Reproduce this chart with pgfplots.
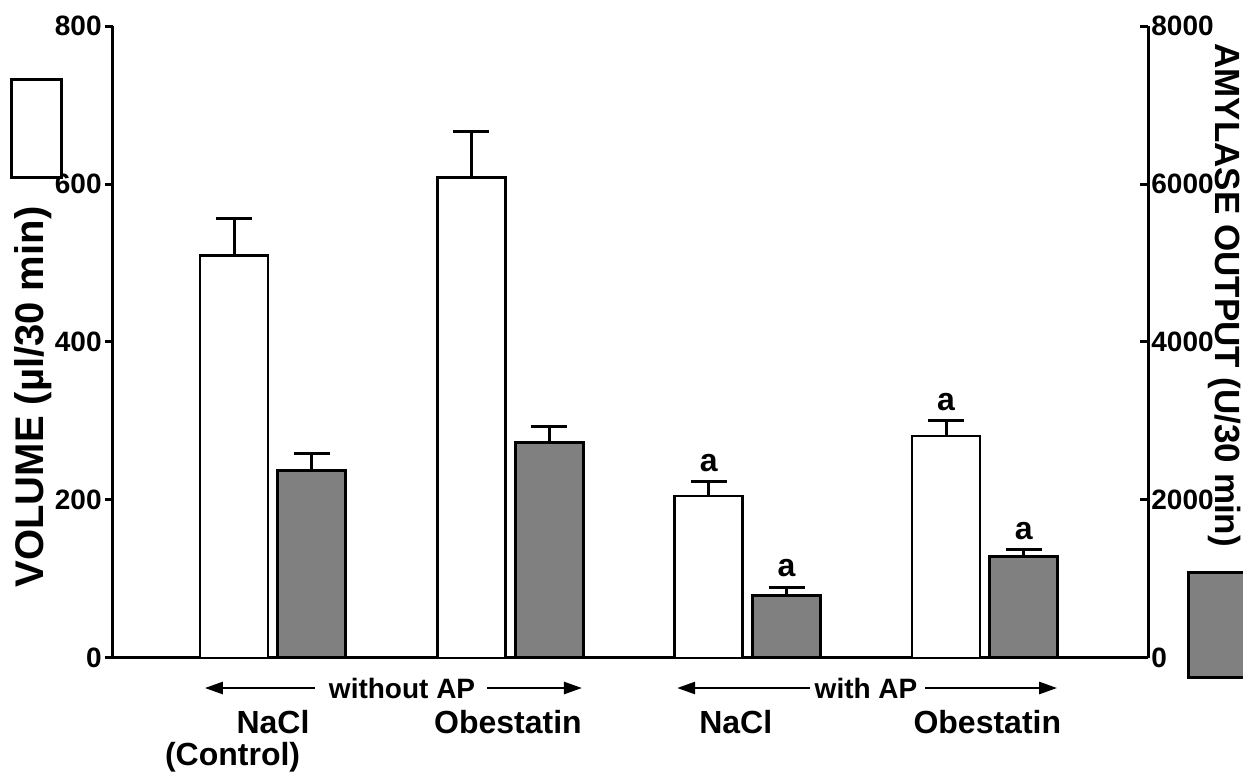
\documentclass[border=0pt]{standalone}
\usepackage{fontspec}
\setmainfont{Liberation Sans}
\usepackage{pgfplots}
\pgfplotsset{compat=1.18}
\usetikzlibrary{arrows.meta}
\definecolor{bargray}{RGB}{128,128,128}

\begin{document}
\begin{tikzpicture}
\pgfplotsset{
  common/.style={
    scale only axis, width=517.5pt, height=316pt,
    xmin=0.326, xmax=4.687, ymin=0,
    bar width=0.2866,
    xtick=\empty,
    /pgf/number format/assume math mode=true,
    /pgf/number format/1000 sep={},
    ticklabel style={font=\fontsize{14}{14}\selectfont\bfseries, inner sep=1.5pt},
    major tick length=4pt,
    every tick/.style={line width=1.5pt, black},
    axis line style={-, line width=1.5pt},
    every outer x axis line/.append style={-},
    every outer y axis line/.append style={-},
    clip=false,
  },
  errs/.style={error bars/.cd, y dir=plus, y explicit,
    error bar style={line width=1.5pt, black},
    error mark options={rotate=90, mark size=9pt, line width=1.5pt, black}},
}
\begin{axis}[common, name=ax1, ymax=800, ytick={0,200,400,600,800},
  axis y line*=left, axis x line*=bottom, tick align=outside,
  ylabel={VOLUME (\textmu l/30 min)},
  ylabel style={at={(axis description cs:-0.0773,0.413)}, anchor=center,
    font=\fontsize{20}{20}\selectfont\bfseries},
]
\addplot[ybar, bar shift=0pt, fill=white, draw=black, line width=1.4pt, errs]
  coordinates {(0.836,509) +- (0,47) (1.836,608) +- (0,58) (2.836,205) +- (0,18) (3.836,281) +- (0,19)};
\node[font=\fontsize{16}{16}\selectfont\bfseries, anchor=south, inner sep=0pt, yshift=5pt] at (axis cs:2.836,223) {a};
\node[font=\fontsize{16}{16}\selectfont\bfseries, anchor=south, inner sep=0pt, yshift=5pt] at (axis cs:3.836,300) {a};
% group annotations
\draw[{Triangle[length=9pt,width=6pt]}-, line width=1.3pt] (axis cs:0.713,-38) -- (axis cs:1.177,-38);
\node[font=\fontsize{14}{14}\selectfont\bfseries] at (axis cs:1.544,-38) {without AP};
\draw[-{Triangle[length=9pt,width=6pt]}, line width=1.3pt] (axis cs:1.902,-38) -- (axis cs:2.302,-38);
\draw[{Triangle[length=9pt,width=6pt]}-, line width=1.3pt] (axis cs:2.703,-38) -- (axis cs:3.263,-38);
\node[font=\fontsize{14}{14}\selectfont\bfseries] at (axis cs:3.499,-38) {with AP};
\draw[-{Triangle[length=9pt,width=6pt]}, line width=1.3pt] (axis cs:3.748,-38) -- (axis cs:4.304,-38);
\node[font=\fontsize{16}{16}\selectfont\bfseries] at (axis cs:1.0,-81) {NaCl};
\node[font=\fontsize{16}{16}\selectfont\bfseries] at (axis cs:0.83,-125) {(Control)};
\node[font=\fontsize{16}{16}\selectfont\bfseries] at (axis cs:1.99,-81) {Obestatin};
\node[font=\fontsize{16}{16}\selectfont\bfseries] at (axis cs:2.95,-81) {NaCl};
\node[font=\fontsize{16}{16}\selectfont\bfseries] at (axis cs:4.01,-81) {Obestatin};
% legend boxes
\draw[line width=1.5pt, fill=white] (axis description cs:-0.0976,0.761) rectangle (axis description cs:-0.0493,0.9146);
\draw[line width=1.5pt, fill=bargray] (axis description cs:1.0396,-0.0316) rectangle (axis description cs:1.25,0.136);
\end{axis}
\begin{axis}[common, ymax=8000, ytick={0,2000,4000,6000,8000},
  axis y line*=right, axis x line=none, tick align=inside,
  ylabel={AMYLASE OUTPUT (U/30 min)},
  ylabel style={at={(axis description cs:1.0744,0.574)}, anchor=center, rotate=180,
    font=\fontsize{17.5}{17.5}\selectfont\bfseries},
]
\addplot[ybar, bar shift=0pt, fill=bargray, draw=black, line width=1.5pt, errs]
  coordinates {(1.164,2370) +- (0,220) (2.164,2730) +- (0,200) (3.164,790) +- (0,100) (4.164,1280) +- (0,90)};
\node[font=\fontsize{16}{16}\selectfont\bfseries, anchor=south, inner sep=0pt, yshift=5pt] at (axis cs:3.164,890) {a};
\node[font=\fontsize{16}{16}\selectfont\bfseries, anchor=south, inner sep=0pt, yshift=5pt] at (axis cs:4.164,1370) {a};
\end{axis}
\pgfresetboundingbox
\useasboundingbox ([shift={(-56.5pt,-61pt)}]ax1.south west) rectangle ([shift={(565pt,329pt)}]ax1.south west);
\end{tikzpicture}
\end{document}
